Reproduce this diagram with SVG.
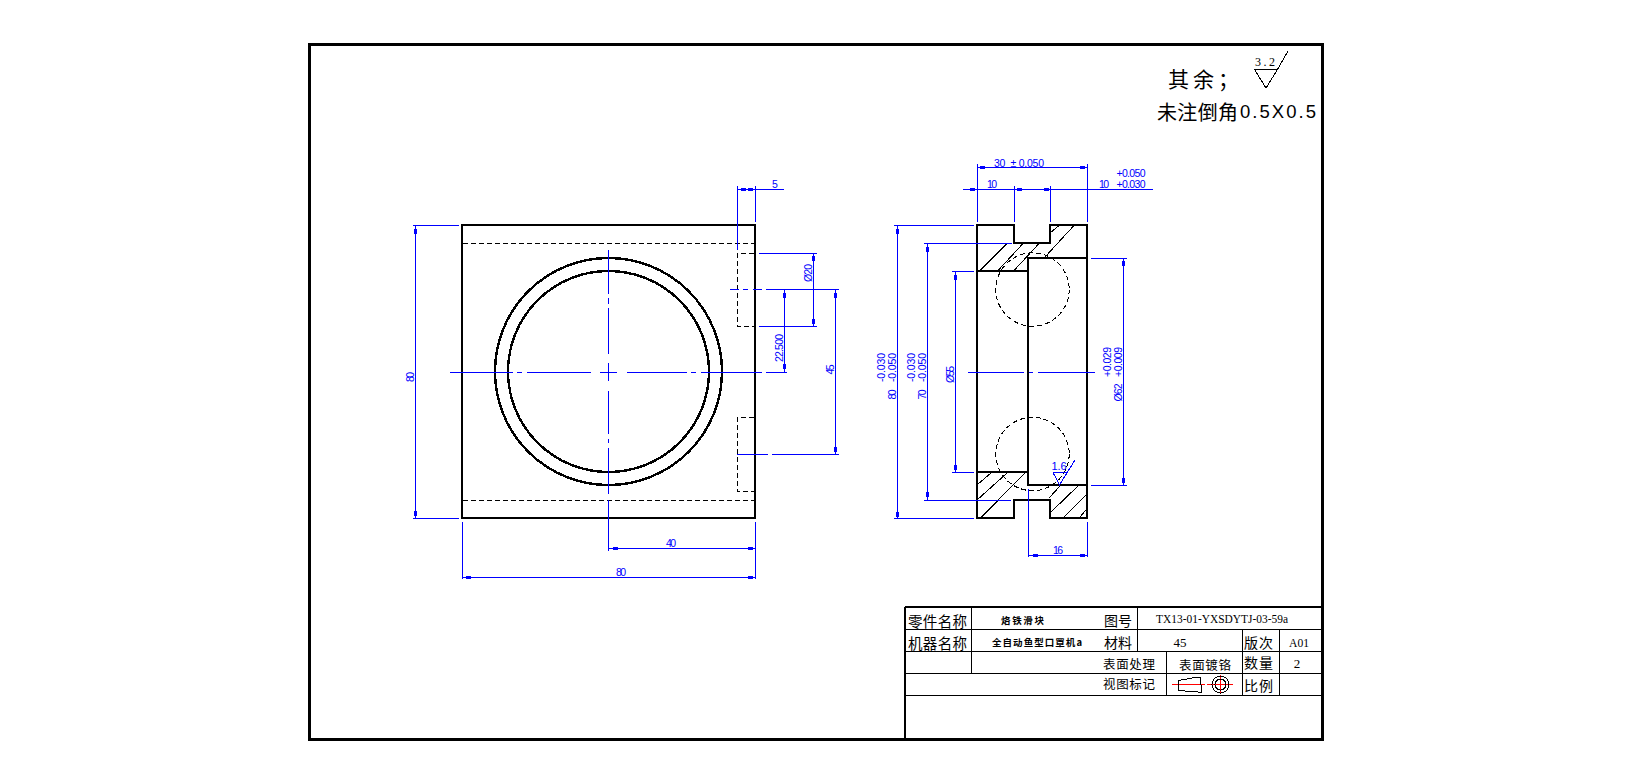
<svg xmlns="http://www.w3.org/2000/svg" width="1632" height="784" viewBox="0 0 1632 784">
<style>
line,path,rect,circle,polygon{shape-rendering:crispEdges}
.b{fill:none;stroke:#0000ff;stroke-width:1}
.k{fill:none;stroke:#000;stroke-width:2}
.o{fill:none;stroke:#000;stroke-width:2.400}
.t{fill:none;stroke:#000;stroke-width:1}
.d{fill:none;stroke:#000;stroke-width:1;stroke-dasharray:5 3}
.r{fill:none;stroke:#ff0000;stroke-width:1}
.f{fill:#0000ff}
text{dominant-baseline:central}
.m{font-family:"Liberation Sans",sans-serif;font-size:10.500px;fill:#0000ff;text-anchor:middle}
.n{font-family:"Liberation Serif",serif;font-size:13px;fill:#000;text-anchor:middle}
.c{font-family:"Noto Sans CJK SC",sans-serif;fill:#000}
.s{font-family:"Noto Sans CJK SC",sans-serif;fill:#000;font-size:9.500px;font-weight:700}
</style>
<defs>
<rect id="av" class="f" x="-1.500" y="-2.500" width="3" height="5"/>
<rect id="ah" class="f" x="-2.500" y="-1.500" width="5" height="3"/>
</defs>
<rect width="1632" height="784" fill="#fff"/>
<g id="frame">
<rect x="309" y="44" width="1013" height="695" fill="none" stroke="#000" stroke-width="3"/>
</g>
<g id="notes">
<text class="c" x="1168 1193 1218" y="78" font-size="21">其余；</text>
<text class="c" x="1157" y="111" font-size="20" textLength="81">未注倒角</text>
<text x="1240" y="111" font-family="Liberation Sans,sans-serif" font-size="18.500" textLength="76">0.5X0.5</text>
<text class="n" x="1265" y="61.500" style="font-size:12px" textLength="20">3.2</text>
<path class="t" d="M1254.500 69.500H1277.500L1266 88L1254.500 69.500M1277.500 69.500L1288 51"/>
</g>
<g id="front-view">
<rect class="k" x="462" y="225" width="293" height="293"/>
<circle class="o" cx="608.500" cy="371.500" r="113.500"/>
<circle class="o" cx="608.500" cy="371.500" r="100.500"/>
<path class="d" d="M463 243.500H755M463 500.500H755"/>
<path class="d" d="M754 253.500H737.500V326.500H754M754 417.500H737.500V491.500H754"/>
</g>
<g id="section-view">
<path class="k" d="M977 225H1014V243H1050V225H1087V518H1050V500H1014V518H977ZM977 271H1028V258H1087M977 472H1028V485H1087M1028 258V485"/>
<path class="t" d="M980.500 270L1007.500 243M998.500 270L1023.500 243M1014.500 270L1039.500 243M1045 257L1073.500 226M1050 233L1058.500 226M977 485L991 473M977 500L1007 473M981.500 517L1025 473M1049 498L1060 486M1051 512L1078 486M1064 517L1086 495M1080 517L1086 510"/>
<circle class="d" cx="1032.500" cy="289.500" r="36.700"/>
<circle class="d" cx="1032.500" cy="454" r="36.700"/>
</g>
<g id="dimensions">
<path class="b" d="M450 372.500H513M517 372.500H522M527 372.500H591M600 372.500H617M627 372.500H687M691 372.500H696M701 372.500H762M766 372.500H787"/>
<path class="b" d="M608.500 250V294M608.500 298V304M608.500 308V354M608.500 363V381M608.500 391V434M608.500 439V443M608.500 448V494M608.500 500V551"/>
<path class="b" d="M730 289.500H739M743 289.500H748M753 289.500H762M766 289.500H839M737 454.500H768M772 454.500H839"/>
<path class="b" d="M737.500 186V250M755.500 186V222M737.500 189.500H784"/>
<path class="b" d="M759 253.500H817M759 326.500H817M813.500 253V326M784.500 289V372M835.500 289V454"/>
<path class="b" d="M413 225.500H459M413 518.500H459M415.500 225V518"/>
<path class="b" d="M462.500 522V579M755.500 522V579M608.500 548.500H755M462 577.500H755"/>
<path class="b" d="M977.500 164V222M1087.500 164V222M977 167.500H1087M963 189.500H1153M1014.500 186V222M1050.500 186V222"/>
<path class="b" d="M894 225.500H974M894 518.500H974M897.500 225V518M924 243.500H1012M924 500.500H1011M927.500 243V500M952 271.500H974M952 472.500H974M955.500 271V472"/>
<path class="b" d="M1091 258.500H1127M1091 485.500H1127M1123.500 258V485"/>
<path class="b" d="M968 372.500H1024M1029 372.500H1033M1038 372.500H1095"/>
<path class="b" d="M1028.500 489V557M1087.500 522V557M1028 555.500H1087"/>
<path class="b" d="M1053 472.500H1067L1059.500 485L1053 472.500M1059.500 485L1075 460"/>
<use href="#av" x="415.500" y="231"/><use href="#av" x="415.500" y="513"/>
<use href="#ah" x="615" y="548.500"/><use href="#ah" x="750" y="548.500"/>
<use href="#ah" x="468" y="577.500"/><use href="#ah" x="750" y="577.500"/>
<use href="#ah" x="743" y="189.500"/><use href="#ah" x="750" y="189.500"/>
<use href="#av" x="813.500" y="258"/><use href="#av" x="813.500" y="321"/>
<use href="#av" x="784.500" y="295"/><use href="#av" x="784.500" y="366"/>
<use href="#av" x="835.500" y="295"/><use href="#av" x="835.500" y="449"/>
<use href="#ah" x="982" y="167.500"/><use href="#ah" x="1082" y="167.500"/>
<use href="#ah" x="972" y="189.500"/><use href="#ah" x="1019" y="189.500"/><use href="#ah" x="1046" y="189.500"/>
<use href="#av" x="897.500" y="231"/><use href="#av" x="897.500" y="514"/>
<use href="#av" x="927.500" y="249"/><use href="#av" x="927.500" y="494"/>
<use href="#av" x="955.500" y="277"/><use href="#av" x="955.500" y="467"/>
<use href="#av" x="1123.500" y="263"/><use href="#av" x="1123.500" y="480"/>
<use href="#ah" x="1035" y="555.500"/><use href="#ah" x="1082" y="555.500"/>
<g id="dimension-labels">
<text class="m" x="775" y="184">5</text>
<text class="m" transform="translate(808,273) rotate(-90)" textLength="18">Ø20</text>
<text class="m" transform="translate(779,348) rotate(-90)" textLength="28">22.500</text>
<text class="m" transform="translate(830,369.500) rotate(-90)" textLength="10">45</text>
<text class="m" transform="translate(410,377) rotate(-90)" textLength="10">80</text>
<text class="m" x="671" y="543" textLength="10">40</text>
<text class="m" x="621" y="572" textLength="10">80</text>
<text class="m" x="1019" y="163" textLength="50">30&#160;&#160;± 0.050</text>
<text class="m" x="992" y="184" textLength="10">10</text>
<text class="m" x="1104" y="184" textLength="10">10</text>
<text class="m" x="1131" y="173" textLength="29">+0.050</text>
<text class="m" x="1131" y="184" textLength="29">+0.030</text>
<text class="m" transform="translate(881,367.500) rotate(-90)" textLength="29">-0.030</text>
<text class="m" transform="translate(892,367.500) rotate(-90)" textLength="29">-0.050</text>
<text class="m" transform="translate(892,394.500) rotate(-90)" textLength="10">80</text>
<text class="m" transform="translate(911,367.500) rotate(-90)" textLength="29">-0.030</text>
<text class="m" transform="translate(922,367.500) rotate(-90)" textLength="29">-0.050</text>
<text class="m" transform="translate(922,394.500) rotate(-90)" textLength="10">70</text>
<text class="m" transform="translate(950,374.500) rotate(-90)" textLength="17">Ø55</text>
<text class="m" transform="translate(1107,362) rotate(-90)" textLength="30">+0.029</text>
<text class="m" transform="translate(1118,362) rotate(-90)" textLength="30">+0.009</text>
<text class="m" transform="translate(1118,392.500) rotate(-90)" textLength="18">Ø62</text>
<text class="m" x="1059" y="466" style="font-size:11px" textLength="15">1.6</text>
<text class="m" x="1058" y="550" textLength="10">16</text>
</g>
</g>
<g id="title-block">
<path class="k" d="M905 607H1322M905 607V739"/>
<path class="t" d="M905 629.500H1322M905 651.500H1322M905 673.500H1322M905 695.500H1322M971.500 607V673M1137.500 607V651M1166.500 651V695M1242.500 629V695M1279.500 629V695"/>
<text class="c" x="908" y="620" font-size="14.500" textLength="59">零件名称</text>
<text class="c" x="908" y="642" font-size="14.500" textLength="59">机器名称</text>
<text class="s" x="1001" y="620" textLength="43">烙铁滑块</text>
<text class="s" x="992" y="642" textLength="90">全自动鱼型口罩机a</text>
<text class="c" x="1104" y="620" font-size="14" textLength="28">图号</text>
<text class="c" x="1104" y="642" font-size="14" textLength="28">材料</text>
<text class="n" x="1222" y="619" style="font-size:12px" textLength="132" lengthAdjust="spacingAndGlyphs">TX13-01-YXSDYTJ-03-59a</text>
<text class="n" x="1180" y="642" textLength="13">45</text>
<text class="c" x="1244" y="642" font-size="14" textLength="29">版次</text>
<text class="n" x="1299" y="642" textLength="20" lengthAdjust="spacingAndGlyphs">A01</text>
<text class="c" x="1103" y="663" font-size="12.500" textLength="52">表面处理</text>
<text class="c" x="1179" y="664" font-size="12.500" textLength="52">表面镀铬</text>
<text class="c" x="1244" y="662" font-size="14" textLength="29">数量</text>
<text class="n" x="1297" y="663">2</text>
<text class="c" x="1103" y="683" font-size="12.500" textLength="52">视图标记</text>
<text class="c" x="1244" y="685" font-size="14" textLength="29">比例</text>
<g id="projection-symbol">
<path class="r" d="M1172 684.500H1205M1207 684.500H1233M1220.500 675V694"/>
<polygon class="t" points="1178.500,680.500 1198,677 1200.500,677 1201.500,692 1198,692 1178.500,690.500"/>
<circle class="t" cx="1220.500" cy="684.500" r="8.500"/>
<circle class="t" cx="1220.500" cy="684.500" r="5.500"/>
</g>
</g>
</svg>
